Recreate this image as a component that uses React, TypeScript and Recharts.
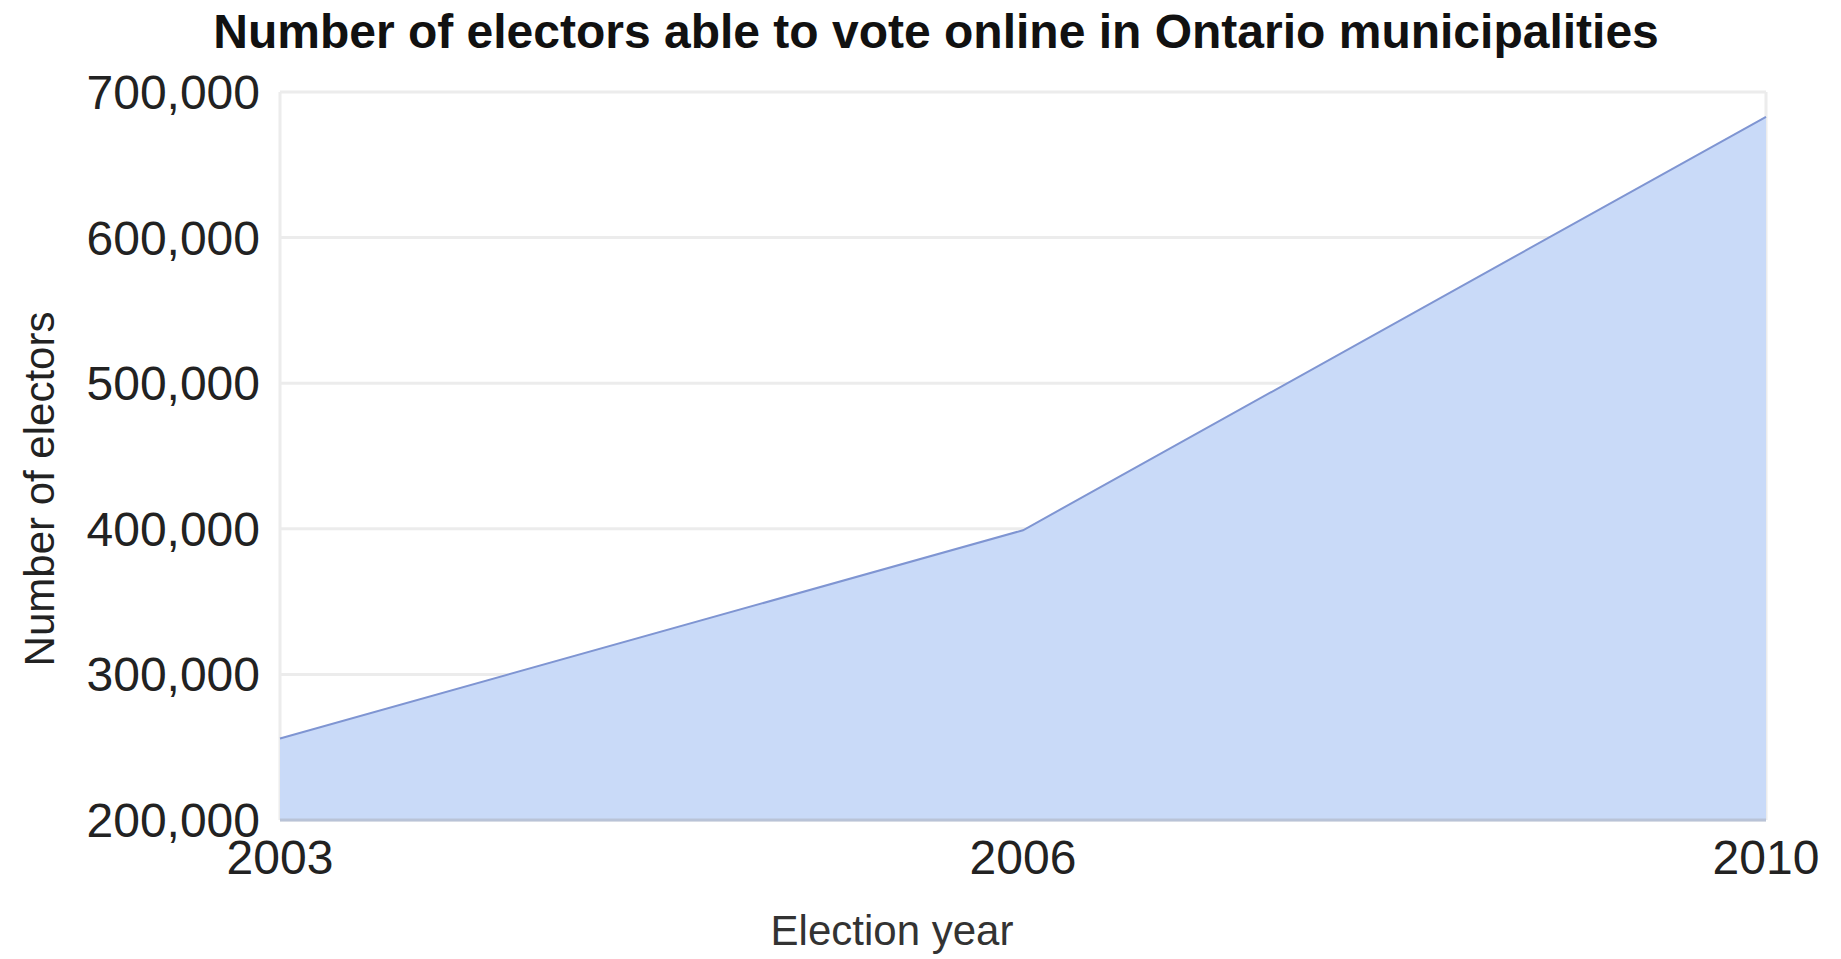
import { AreaChart, Area, XAxis, YAxis, CartesianGrid, Label } from 'recharts'

// ─── Data ─────────────────────────────────────────────────────────────────────

const years = ['2003', '2006', '2010']
const electors = [256000, 399000, 683000]
const yTicks = [200000, 300000, 400000, 500000, 600000, 700000]

const data = years.map((year, i) => ({ year, electors: electors[i] }))

// ─── Layout ───────────────────────────────────────────────────────────────────

const W = 1841
const H = 959
const FONT = '"Liberation Sans", Arial, sans-serif'

const fmt = (v: number) => v.toLocaleString('en-US')

export default function App() {
  return (
    <div style={{ position: 'absolute', left: 0, top: 0, width: W, height: H, background: '#fff', fontFamily: FONT }}>
      <div
        style={{
          position: 'absolute',
          top: 8,
          left: 936,
          transform: 'translateX(-50%)',
          whiteSpace: 'nowrap',
          fontSize: 48,
          lineHeight: '48px',
          fontWeight: 'bold',
          color: '#111',
        }}
      >
        Number of electors able to vote online in Ontario municipalities
      </div>
      <AreaChart width={W} height={H} data={data} margin={{ top: 92, right: 75, left: 0, bottom: 0 }}>
        <CartesianGrid
          horizontal
          vertical
          verticalPoints={[280, 1766]}
          stroke="#ececec"
          strokeWidth={3}
        />
        <XAxis
          dataKey="year"
          height={139}
          tickSize={0}
          tickMargin={20}
          axisLine={{ stroke: '#b9c3d7', strokeWidth: 3 }}
          tick={{ fill: '#222', fontSize: 48, fontFamily: FONT }}
          interval={0}
        >
          <Label
            content={({ viewBox }: any) => (
              <text
                x={viewBox.x + viewBox.width / 2 - 131}
                y={945}
                textAnchor="middle"
                fill="#333"
                fontSize={42}
                fontFamily={FONT}
              >
                Election year
              </text>
            )}
          />
        </XAxis>
        <YAxis
          width={280}
          domain={[200000, 700000]}
          ticks={yTicks}
          tickFormatter={fmt}
          tickSize={0}
          tickMargin={20}
          axisLine={false}
          tick={{ fill: '#222', fontSize: 48, fontFamily: FONT }}
          interval={0}
        >
          <Label
            content={({ viewBox }: any) => {
              const cx = 39
              const cy = viewBox.y + viewBox.height / 2 + 33
              return (
                <text
                  x={cx}
                  y={cy}
                  transform={`rotate(-90, ${cx}, ${cy})`}
                  textAnchor="middle"
                  dominantBaseline="central"
                  fill="#222"
                  fontSize={42}
                  fontFamily={FONT}
                >
                  Number of electors
                </text>
              )
            }}
          />
        </YAxis>
        <Area
          type="linear"
          dataKey="electors"
          stroke="#7f95d2"
          strokeWidth={2}
          fill="#c9daf8"
          fillOpacity={1}
          dot={false}
          activeDot={false}
          isAnimationActive={false}
        />
      </AreaChart>
    </div>
  )
}
